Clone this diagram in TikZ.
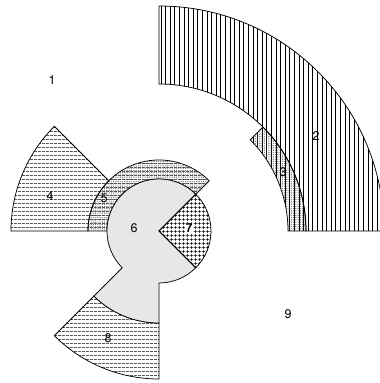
\documentclass[tikz,border=0pt]{standalone}
\usepackage{fontspec}
\setmainfont{TeX Gyre Heros}
\usetikzlibrary{patterns.meta}
\begin{document}
\begin{tikzpicture}[x=1pt,y=1pt,line width=0.75pt,
  lbl/.style={font=\fontsize{12.5}{14}\selectfont,inner sep=0pt},
  vl/.style={pattern={Lines[angle=90,distance=4.6pt,line width=0.65pt]}},
  hl/.style={pattern={Lines[angle=0,distance=4pt,line width=0.65pt]}},
  dt/.style={pattern={Dots[distance=1.8pt,radius=0.45pt]},pattern color=black!75},
  ldt/.style={fill=black!6,postaction={pattern={Dots[distance=2pt,radius=0.4pt]},pattern color=black!45}},
  xh/.style={pattern={Hatch[distance=4pt,line width=0.9pt]}}]
\useasboundingbox (0,0) rectangle (380,383);
\coordinate (C) at (159,152);
% region 2
\draw[vl] ([shift={(0:225)}]C) arc[start angle=0,end angle=90,radius=225]
  -- ([shift={(90:147)}]C) arc[start angle=90,end angle=0,radius=147] -- cycle;
% region 3
\draw[vl,postaction={dt}] ([shift={(0:147)}]C) arc[start angle=0,end angle=45,radius=147]
  -- ([shift={(45:129)}]C) arc[start angle=45,end angle=0,radius=129] -- cycle;
% region 4
\draw[hl] ([shift={(135:148)}]C) arc[start angle=135,end angle=180,radius=148]
  -- ([shift={(180:71)}]C) arc[start angle=180,end angle=135,radius=71] -- cycle;
% region 5
\draw[hl,postaction={dt}] ([shift={(45:71)}]C) arc[start angle=45,end angle=180,radius=71]
  -- ([shift={(180:52)}]C) arc[start angle=180,end angle=45,radius=52] -- cycle;
% region 8
\draw[hl] ([shift={(225:148)}]C) arc[start angle=225,end angle=270,radius=148]
  -- ([shift={(270:92)}]C) arc[start angle=270,end angle=225,radius=92] -- cycle;
% region 6
\draw[ldt] (C) -- ([shift={(45:52)}]C) arc[start angle=45,end angle=225,radius=52]
  -- ([shift={(225:92)}]C) arc[start angle=225,end angle=270,radius=92]
  -- ([shift={(270:52)}]C) arc[start angle=270,end angle=315,radius=52] -- cycle;
% region 7
\draw[xh] (C) -- ([shift={(-45:52)}]C) arc[start angle=-45,end angle=45,radius=52] -- cycle;
% labels
\node[lbl] (l1) at (52,303) {1};
\node[lbl] (l2) at (316,247) {2};
\node[lbl] (l3) at (283,211) {3};
\node[lbl] (l4) at (50,187) {4};
\node[lbl] (l5) at (104,185) {5};
\node[lbl] (l6) at (134,155) {6};
\node[lbl,fill=white,inner sep=1pt,font=\fontsize{12.5}{14}\selectfont\bfseries] (l7) at (189,155) {7};
\node[lbl] (l8) at (108,45) {8};
\node[lbl] (l9) at (288,69) {9};
\end{tikzpicture}
\end{document}
